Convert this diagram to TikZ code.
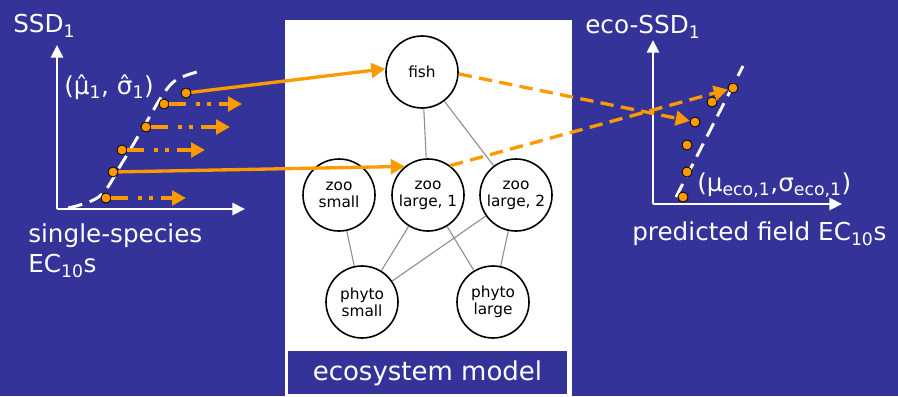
\documentclass[tikz,border=0pt]{standalone}
\usepackage{fontspec}
\setmainfont{DejaVu Sans}
\usetikzlibrary{arrows.meta}
\definecolor{slideblue}{RGB}{51,51,153}
\definecolor{ssdorange}{RGB}{255,153,0}

\begin{document}
\begin{tikzpicture}[x=0.75pt, y=-0.75pt, font=\fontsize{18.5}{20}\selectfont,
  ssdaxis/.style={white, line width=2.2pt, -{Triangle[length=9.5pt,width=9pt]}},
  ssdfit/.style={white, line width=2.2pt, dash pattern=on 11pt off 6pt},
  ecdot/.style={circle, draw=black, fill=ssdorange, line width=0.6pt, inner sep=0pt, minimum size=7.5pt},
  species/.style={circle, draw=black, fill=white, line width=1.2pt, minimum size=54pt, inner sep=0pt, align=center, font=\fontsize{11.5}{12.5}\selectfont},
  food/.style={black!45, line width=0.8pt},
  pass/.style={ssdorange, line width=2.5pt, -{Triangle[length=10.5pt,width=11pt]}},
  drop/.style={pass, dash pattern=on 12.75pt off 7.5pt on 3pt off 5.25pt on 3pt off 6pt on 40pt},
  link/.style={pass, dash pattern=on 10pt off 5.5pt},
  lab/.style={white, anchor=west, inner sep=0pt}]
  \useasboundingbox (0,0) rectangle (898,396);
  \fill[slideblue] (0,0) rectangle (898,396);

  % ecosystem model panel
  \fill[white] (285,20) rectangle (572,396);
  \fill[slideblue] (288,351) rectangle (567,394);
  \node[white, font=\fontsize{19.5}{21}\selectfont] (model) at (427.5,373) {ecosystem model};
  \node[species] (fish) at (422,72) {fish};
  \node[species] (zs) at (339,195) {zoo\\small};
  \node[species] (zl1) at (428,195) {zoo\\large, 1};
  \node[species] (zl2) at (516,195) {zoo\\large, 2};
  \node[species] (ps) at (362,302) {phyto\\small};
  \node[species] (pl) at (493,302) {phyto\\large};
  \foreach \a/\b in {fish/zl1, fish/zl2, zs/ps, zl1/ps, zl1/pl, zl2/ps, zl2/pl}
    \draw[food] (\a) -- (\b);

  % single-species SSD
  \coordinate (o1) at (57,209);
  \draw[ssdaxis] (o1) -- (57,45);
  \draw[ssdaxis] (o1) -- (245,209);
  \draw[ssdfit] plot[smooth, tension=0.6] coordinates {(68,208) (100,196) (122,163) (143,128) (162,96) (176,80) (197,72)};
  \node[lab] (ssd) at (13,26) {SSD\textsubscript{1}};
  \node[lab] (est) at (64,87) {(μ̂\textsubscript{1}, σ̂\textsubscript{1})};
  \node[lab] (ss) at (28,236) {single-species};
  \node[lab] (ec) at (28,266) {EC\textsubscript{10}s};
  \foreach \n/\x/\y in {l1/186/93, l2/164/104, l3/146/127, l4/122/150, l5/113/172, l6/106/198}
    \node[ecdot] (\n) at (\x,\y) {};
  \foreach \n/\x/\y in {l2/242/104, l3/230/127, l4/205/150, l6/186/198} {
    \coordinate (\n e) at (\x,\y);
    \draw[drop] (\n) -- (\n e);
  }

  % eco-SSD
  \coordinate (o2) at (653,204);
  \draw[ssdaxis] (o2) -- (653,40);
  \draw[ssdaxis] (o2) -- (842,204);
  \draw[ssdfit] (676,197) -- (743,66);
  \node[lab] (eco) at (585,27) {eco-SSD\textsubscript{1}};
  \node[lab] (ecoest) at (697,185) {(μ\textsubscript{eco,1},σ\textsubscript{eco,1})};
  \node[lab] (pf) at (632,234) {predicted field EC\textsubscript{10}s};
  \foreach \n/\x/\y in {r1/733/88, r2/712/102, r3/695/122, r4/687/145, r5/687/172, r6/683/197}
    \node[ecdot] (\n) at (\x,\y) {};

  % mapping through the model
  \draw[pass] (l1) -- (fish.175);
  \draw[pass] (l5) -- (zl1.129);
  \draw[link] (fish.-3) -- (r3);
  \draw[link] (zl1.53) -- (r1);
\end{tikzpicture}
\end{document}
